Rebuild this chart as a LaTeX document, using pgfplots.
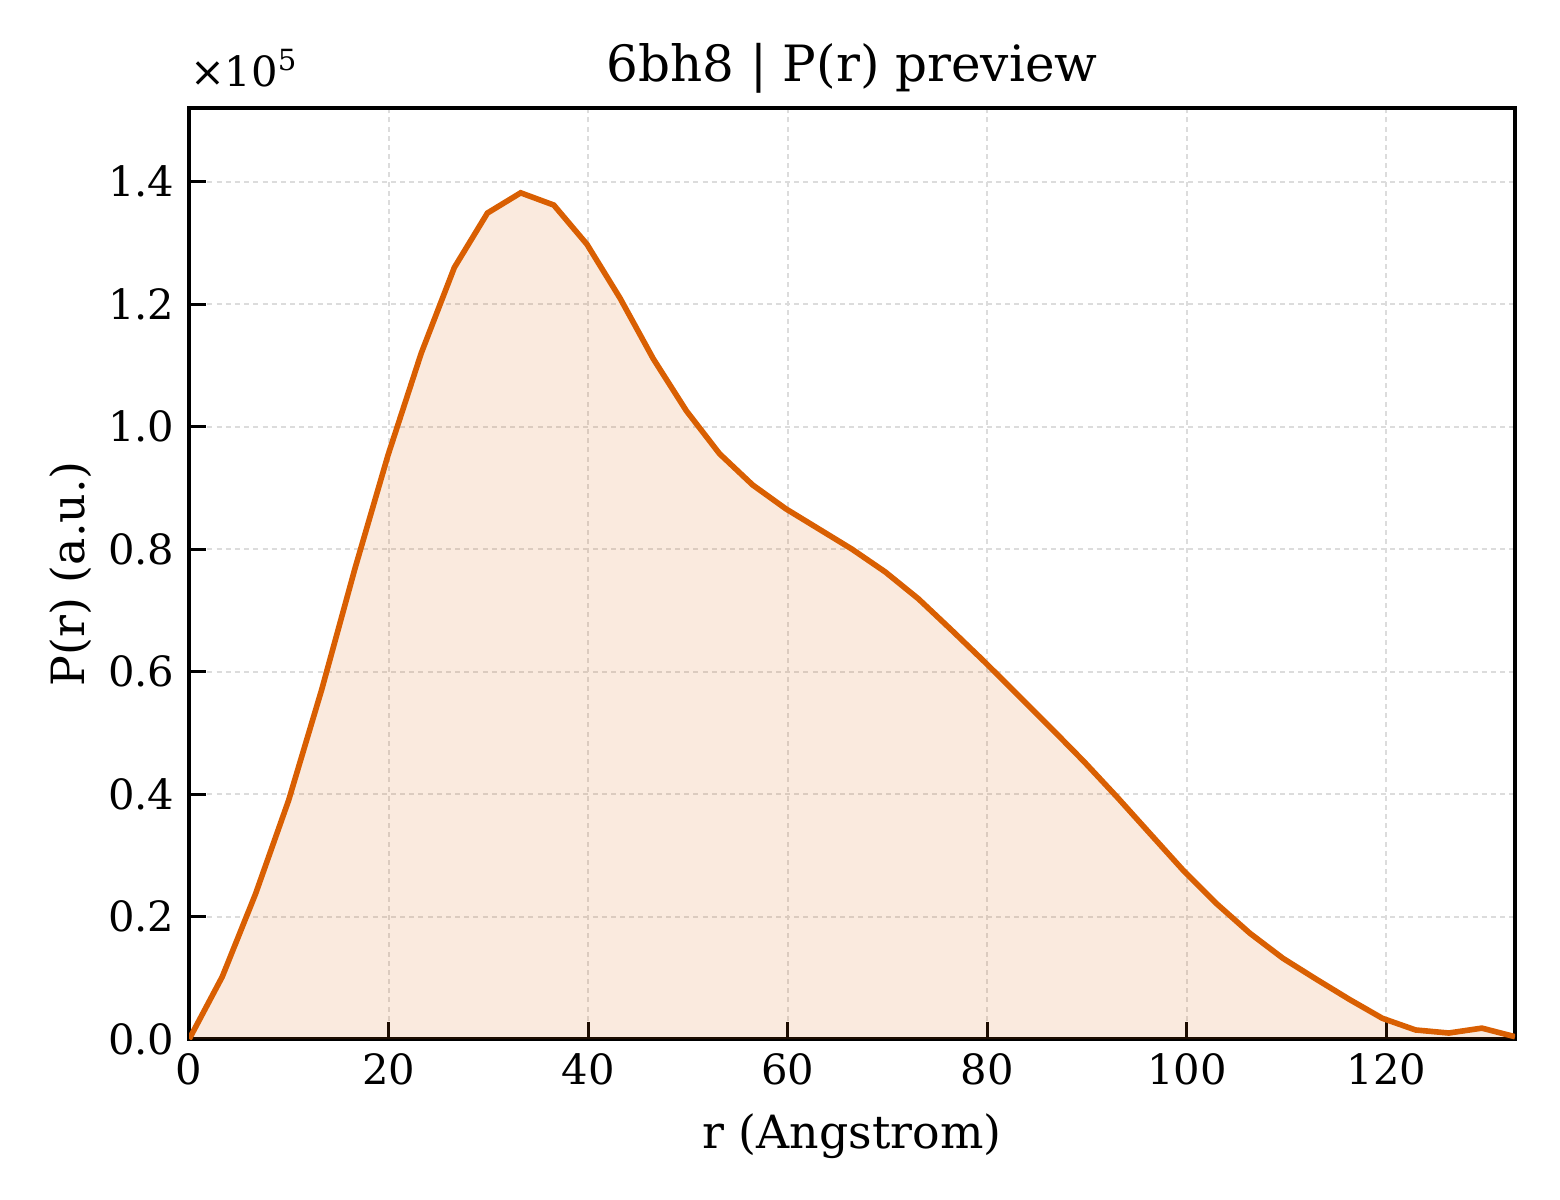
\documentclass[border=0pt]{standalone}
\usepackage{pgfplots}
\pgfplotsset{compat=1.18}
\usepackage{fontspec}
\setmainfont{DejaVu Serif}
\definecolor{prline}{RGB}{217,95,2}
\definecolor{gridc}{RGB}{220,220,220}
\begin{document}
\begin{tikzpicture}
\path[use as bounding box] (0,0) rectangle (374.4pt,288pt);
\begin{axis}[
  name=main,
  at={(45.4pt,38.6pt)}, anchor=south west,
  scale only axis, width=318.2pt, height=223.4pt,
  xmin=0, xmax=132.9, ymin=0, ymax=1.52,
  xtick={0,20,...,120}, ytick={0,0.2,...,1.4},
  tick align=inside, xtick pos=bottom, ytick pos=left,
  major tick length=4pt,
  tick style={black, line width=0.8pt},
  axis line style={line width=0.9pt},
  grid=major, major grid style={gridc, dash pattern=on 1.2pt off 1pt, line width=0.4pt},
  /pgf/number format/assume math mode=true,
  yticklabel style={/pgf/number format/fixed, /pgf/number format/fixed zerofill, /pgf/number format/precision=1},
  ticklabel style={font=\fontsize{10}{12}\selectfont},
  scaled y ticks=false,
  xlabel={r (Angstrom)}, ylabel={P(r) (a.u.)},
  label style={font=\fontsize{11}{13}\selectfont},
  ylabel style={yshift=-2.8pt},
  xlabel style={yshift=0pt},
  title={6bh8 | P(r) preview},
  title style={font=\fontsize{12}{14}\selectfont, yshift=-6pt},
]
\addplot[draw=none, fill=prline, fill opacity=0.13] coordinates {
(0,0) (3.32,0.102) (6.65,0.237) (9.97,0.390) (13.29,0.571) (16.61,0.768) (19.94,0.954) (23.26,1.120) (26.58,1.260) (29.90,1.349) (33.23,1.382) (36.55,1.362) (39.87,1.298) (43.19,1.210) (46.52,1.111) (49.84,1.026) (53.16,0.956) (56.48,0.905) (59.81,0.866) (63.13,0.833) (66.45,0.800) (69.77,0.763) (73.10,0.719) (76.42,0.668) (79.74,0.616) (83.06,0.562) (86.39,0.508) (89.71,0.453) (93.03,0.395) (96.35,0.335) (99.68,0.275) (103.00,0.221) (106.32,0.173) (109.64,0.132) (112.97,0.098) (116.29,0.065) (119.61,0.034) (122.93,0.015) (126.26,0.010) (129.58,0.018) (132.90,0.004) (132.90,0)
} \closedcycle;
\addplot[prline, line width=1.35pt, mark=none] coordinates {
(0,0) (3.32,0.102) (6.65,0.237) (9.97,0.390) (13.29,0.571) (16.61,0.768) (19.94,0.954) (23.26,1.120) (26.58,1.260) (29.90,1.349) (33.23,1.382) (36.55,1.362) (39.87,1.298) (43.19,1.210) (46.52,1.111) (49.84,1.026) (53.16,0.956) (56.48,0.905) (59.81,0.866) (63.13,0.833) (66.45,0.800) (69.77,0.763) (73.10,0.719) (76.42,0.668) (79.74,0.616) (83.06,0.562) (86.39,0.508) (89.71,0.453) (93.03,0.395) (96.35,0.335) (99.68,0.275) (103.00,0.221) (106.32,0.173) (109.64,0.132) (112.97,0.098) (116.29,0.065) (119.61,0.034) (122.93,0.015) (126.26,0.010) (129.58,0.018) (132.90,0.004)
};
\end{axis}
\node[anchor=south west, inner sep=0pt, font=\fontsize{10}{12}\selectfont] at ([yshift=5pt]main.north west) {×10\textsuperscript{5}};
\end{tikzpicture}
\end{document}
